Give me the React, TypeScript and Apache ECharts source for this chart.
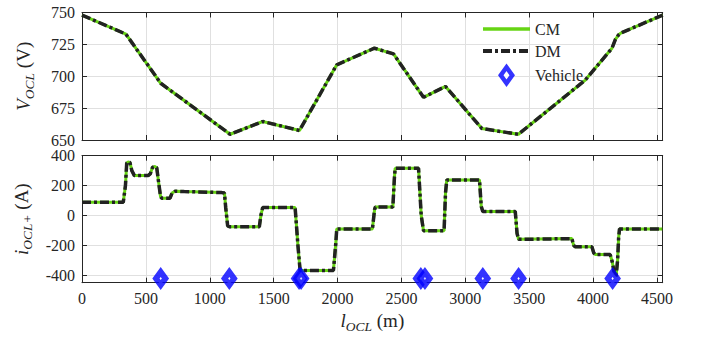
import React, { useEffect, useRef } from "react";
import * as echarts from "echarts";

// ---- data ----
const voltageL = [0, 344, 616, 1159, 1415, 1702, 1994, 2289, 2438, 2673, 2845, 3130, 3416, 3939, 4148, 4175, 4200, 4220, 4545];
const voltageV = [748, 733, 694.5, 654.5, 664.5, 657.5, 709, 722, 717.5, 683.5, 692, 659, 654.5, 697, 722, 729, 732.5, 734, 748];

const currentL = [0, 323, 340, 350, 360, 375, 390, 410, 519, 535, 552, 570, 585, 600, 615, 624, 689, 705, 728, 800, 1094, 1115, 1125, 1140, 1154, 1388, 1400, 1414, 1668, 1690, 1707, 1968, 1985, 1994, 2273, 2290, 2296, 2433, 2445, 2451, 2634, 2655, 2673, 2834, 2845, 2855, 3111, 3125, 3137, 3391, 3405, 3417, 3834, 3848, 3860, 3991, 4005, 4017, 4134, 4150, 4165, 4180, 4192, 4200, 4207, 4545];
const currentI = [88, 88, 200, 350, 358, 355, 300, 267, 267, 280, 322, 328, 320, 220, 125, 116, 116, 150, 162, 160, 153, 150, 50, -70, -75, -75, 0, 53, 53, -200, -368, -368, -200, -90, -90, 40, 56, 56, 250, 316, 316, 0, -102, -102, 150, 238, 238, 60, 27, 27, -120, -160, -155, -200, -210, -210, -250, -262, -262, -310, -380, -410, -300, -150, -90, -90];

const vehicleL = [616, 1153, 1699, 1715, 2652, 2684, 3137, 3417, 4153];
const vehicleI = [-422, -422, -422, -422, -422, -422, -422, -422, -422];

const xTicks = [0, 500, 1000, 1500, 2000, 2500, 3000, 3500, 4000, 4500];
const vTicks = [650, 675, 700, 725, 750];
const iTicks = [-400, -200, 0, 200, 400];

const FONT = "'Liberation Serif', 'DejaVu Serif', serif";
const AX = "#262626";
const GRIDC = "#e0e0e0";
const GREEN = "#66d414";
const DARK = "#222222";
const BLUE = "#0000ff";

const rich = {
  it: { fontStyle: "italic", fontSize: 19, fontFamily: FONT, color: AX, verticalAlign: "middle", lineHeight: 22 },
  sub: { fontStyle: "italic", fontSize: 13.5, fontFamily: FONT, color: AX, verticalAlign: "bottom", lineHeight: 26 },
  n: { fontSize: 19, fontFamily: FONT, color: AX, verticalAlign: "middle", lineHeight: 22 },
};

function xAxisCfg(grid: number, main: boolean, top: boolean) {
  return {
    type: "value",
    gridIndex: grid,
    position: top ? "top" : "bottom",
    min: 0,
    max: 4545,
    axisLine: { show: true, onZero: false, lineStyle: { color: AX, width: 1 } },
    axisTick: { show: true, inside: true, length: 5, customValues: xTicks, lineStyle: { color: AX } },
    axisLabel: {
      show: main,
      customValues: xTicks,
      fontSize: 16,
      fontFamily: FONT,
      color: AX,
      margin: 8,
      formatter: (v: number) => String(v),
    },
    splitLine: { show: !top, lineStyle: { color: GRIDC, width: 1 } },
    name: main ? "{it|l}{sub|OCL}{n| (m)}" : "",
    nameLocation: "middle",
    nameGap: 25,
    nameTextStyle: { rich },
  };
}

function yAxisCfg(grid: number, right: boolean, min: number, max: number, ticks: number[], name: string) {
  return {
    type: "value",
    gridIndex: grid,
    position: right ? "right" : "left",
    min,
    max,
    axisLine: { show: true, onZero: false, lineStyle: { color: AX, width: 1 } },
    axisTick: { show: true, inside: true, length: 5, customValues: ticks, lineStyle: { color: AX } },
    axisLabel: {
      show: !right,
      customValues: ticks,
      fontSize: 16,
      fontFamily: FONT,
      color: AX,
      margin: 7,
      formatter: (v: number) => String(v),
    },
    splitLine: { show: !right, lineStyle: { color: GRIDC, width: 1 } },
    name: right ? "" : name,
    nameLocation: "middle",
    nameRotate: 90,
    nameGap: 46,
    nameTextStyle: { rich },
  };
}

export default function App() {
  const ref = useRef<HTMLDivElement>(null);
  useEffect(() => {
    if (!ref.current) return;
    const chart = echarts.init(ref.current, undefined, { renderer: "svg" });
    const vData = voltageL.map((l, i) => [l, voltageV[i]]);
    const iData = currentL.map((l, i) => [l, currentI[i]]);
    const vehData = vehicleL.map((l, i) => [l, vehicleI[i]]);
    const cmStyle = { color: GREEN, width: 3 };
    const dmStyle = { color: DARK, width: 3.5, type: [9, 3, 3, 3] };
    chart.setOption({
      animation: false,
      backgroundColor: "#ffffff",
      grid: [
        { left: 82, right: 43.3, top: 12.5, height: 127.5 },
        { left: 82, right: 43.3, top: 155.7, height: 127 },
      ],
      legend: {
        orient: "vertical",
        left: 481,
        top: 21,
        itemWidth: 47,
        itemHeight: 16,
        itemGap: 6,
        padding: 0,
        textStyle: { fontSize: 16, fontFamily: FONT, color: AX },
        data: [
          { name: "CM", itemStyle: { opacity: 0 }, lineStyle: { width: 3.5, color: GREEN } },
          { name: "DM", itemStyle: { opacity: 0 }, lineStyle: { width: 4, color: DARK, type: [9, 3, 3, 3] } },
          {
            name: "Vehicle",
            icon: "path://M5 0 L10 7 L5 14 L0 7 Z",
            itemStyle: { color: "#ffffff", borderColor: BLUE, borderWidth: 4.5 },
          },
        ],
      },
      xAxis: [xAxisCfg(0, false, false), xAxisCfg(0, false, true), xAxisCfg(1, true, false), xAxisCfg(1, false, true)],
      yAxis: [
        yAxisCfg(0, false, 650, 750, vTicks, "{it|V}{sub|OCL}{n| (V)}"),
        yAxisCfg(0, true, 650, 750, vTicks, ""),
        yAxisCfg(1, false, -450, 400, iTicks, "{it|i}{sub|OCL+}{n| (A)}"),
        yAxisCfg(1, true, -450, 400, iTicks, ""),
      ],
      series: [
        { name: "CM", type: "line", xAxisIndex: 0, yAxisIndex: 0, data: vData, showSymbol: false, symbol: "none", lineStyle: cmStyle, itemStyle: { color: GREEN } },
        { name: "DM", type: "line", xAxisIndex: 0, yAxisIndex: 0, data: vData, showSymbol: false, symbol: "none", lineStyle: dmStyle, itemStyle: { color: DARK } },
        { name: "CM", type: "line", xAxisIndex: 2, yAxisIndex: 2, data: iData, showSymbol: false, symbol: "none", lineStyle: cmStyle, itemStyle: { color: GREEN } },
        { name: "DM", type: "line", xAxisIndex: 2, yAxisIndex: 2, data: iData, showSymbol: false, symbol: "none", lineStyle: dmStyle, itemStyle: { color: DARK } },
        {
          name: "Vehicle",
          type: "scatter",
          xAxisIndex: 2,
          yAxisIndex: 2,
          data: vehData,
          symbol: "diamond",
          symbolSize: [9.5, 13],
          clip: false,
          z: 5,
          itemStyle: { color: "#ffffff", borderColor: BLUE, borderWidth: 6 },
        },
      ],
    });
    return () => chart.dispose();
  }, []);
  return <div ref={ref} style={{ position: "fixed", left: 0, top: 0, width: 706, height: 341 }} />;
}
